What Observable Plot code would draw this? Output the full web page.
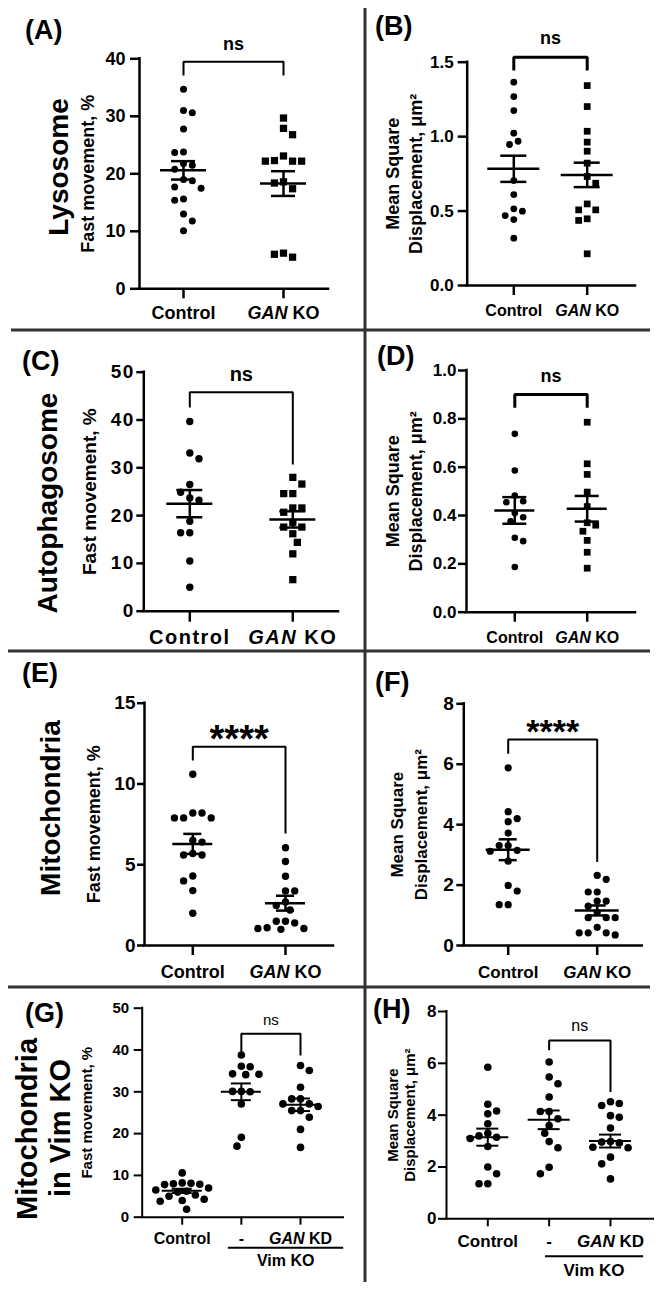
<!DOCTYPE html>
<html><head><meta charset="utf-8">
<script src="https://cdn.jsdelivr.net/npm/d3@7"></script>
<script src="https://cdn.jsdelivr.net/npm/@observablehq/plot@0.6"></script>
<style>
html,body{margin:0;padding:0;background:#fff;overflow:hidden}
#fig{position:relative;width:661px;height:1291px;background:#fff}
#fig svg{position:absolute;left:0;top:0}
</style></head><body><div id="fig"></div>
<script>
// ---------- categories ----------
const groups2 = ["Control", "GAN KO"];
const groups3 = ["Control", "-", "GAN KD"];

// ---------- tick values ----------
const ticksA = [0, 10, 20, 30, 40];
const ticksB = [0, 0.5, 1.0, 1.5];
const ticksC = [0, 10, 20, 30, 40, 50];
const ticksD = [0, 0.2, 0.4, 0.6, 0.8, 1.0];
const ticksE = [0, 5, 10, 15];
const ticksF = [0, 2, 4, 6, 8];
const ticksG = [0, 10, 20, 30, 40, 50];
const ticksH = [0, 2, 4, 6, 8];

// ---------- (A) Lysosome, fast movement % ----------
const lysoFastCtrl = [34.7, 31.0, 30.6, 27.8, 23.8, 23.7, 21.8, 21.5, 20.8, 19.0, 18.8, 17.7, 17.5, 15.6, 15.4, 13.0, 11.8, 10.1];
const lysoFastGan = [29.7, 27.9, 26.8, 23.1, 22.2, 22.2, 22.2, 22.3, 18.6, 18.4, 17.4, 6.2, 6.0, 5.5];
const lysoFastMean = [20.6, 18.3];
const lysoFastSem = [1.6, 2.15];

// ---------- (B) Lysosome, MSD ----------
const lysoMsdCtrl = [1.366, 1.269, 1.175, 1.023, 0.969, 0.947, 0.705, 0.611, 0.515, 0.499, 0.47, 0.443, 0.318];
const lysoMsdGan = [1.343, 1.202, 1.036, 0.963, 0.902, 0.822, 0.732, 0.687, 0.548, 0.508, 0.508, 0.448, 0.437, 0.213];
const lysoMsdMean = [0.784, 0.743];
const lysoMsdSem = [0.088, 0.082];

// ---------- (C) Autophagosome, fast movement % ----------
const autoFastCtrl = [39.7, 33.1, 31.9, 26.5, 24.9, 23.7, 23.2, 18.8, 16.4, 16.4, 10.5, 5.0];
const autoFastGan = [28.0, 26.6, 24.6, 24.6, 21.6, 21.6, 20.7, 18.6, 17.6, 17.6, 16.2, 14.4, 12.0, 6.6];
const autoFastMean = [22.5, 19.2];
const autoFastSem = [2.85, 1.7];

// ---------- (D) Autophagosome, MSD ----------
const autoMsdCtrl = [0.738, 0.586, 0.483, 0.459, 0.455, 0.41, 0.393, 0.376, 0.308, 0.294, 0.187];
const autoMsdGan = [0.786, 0.614, 0.570, 0.497, 0.437, 0.37, 0.36, 0.335, 0.297, 0.248, 0.182];
const autoMsdMean = [0.421, 0.428];
const autoMsdSem = [0.055, 0.053];

// ---------- (E) Mitochondria, fast movement % ----------
const mitoFastCtrl = [10.6, 8.2, 8.2, 7.9, 7.9, 7.9, 6.5, 6.4, 5.7, 5.6, 5.6, 4.3, 4.0, 3.4, 2.0];
const mitoFastGan = [6.05, 5.2, 4.29, 3.38, 3.38, 2.7, 2.48, 2.2, 1.5, 1.5, 1.4, 1.1, 1.05, 1.0, 1.05];
const mitoFastMean = [6.29, 2.62];
const mitoFastSem = [0.62, 0.46];

// ---------- (F) Mitochondria, MSD ----------
const mitoMsdCtrl = [5.88, 4.43, 4.2, 4.1, 3.72, 3.31, 3.31, 3.15, 3.12, 2.79, 1.99, 1.8, 1.35, 1.35];
const mitoMsdGan = [2.32, 2.19, 1.77, 1.77, 1.47, 1.47, 1.3, 1.1, 0.92, 0.92, 0.92, 0.6, 0.35, 0.42, 0.42, 0.42];
const mitoMsdMean = [3.17, 1.16];
const mitoMsdSem = [0.345, 0.165];

// ---------- (G) Mitochondria in Vim KO, fast movement % ----------
const vimFastCtrl = [10.6, 8.2, 8.1, 8.0, 7.9, 7.8, 7.0, 6.5, 6.2, 6.0, 5.3, 5.0, 4.3, 4.0, 3.8, 1.9];
const vimFastKO = [38.8, 36.1, 36.0, 34.3, 34.2, 34.1, 30.1, 30.1, 30.0, 27.1, 19.1, 17.0];
const vimFastKD = [36.3, 35.1, 31.1, 28.3, 28.3, 27.1, 27.1, 26.5, 25.5, 25.5, 23.9, 21.0, 16.7];
const vimFastMean = [6.3, 30.0, 26.9];
const vimFastSem = [0.5, 2.0, 1.5];

// ---------- (H) Mitochondria in Vim KO, MSD ----------
const vimMsdCtrl = [5.85, 4.42, 4.16, 4.05, 3.67, 3.3, 3.2, 3.15, 3.1, 2.79, 2.0, 1.74, 1.35, 1.35];
const vimMsdKO = [6.05, 5.47, 5.21, 4.7, 4.14, 4.14, 3.86, 3.6, 3.3, 2.98, 2.74, 1.99, 1.74];
const vimMsdKD = [4.45, 4.37, 4.52, 3.92, 3.98, 3.5, 2.98, 2.96, 2.93, 2.76, 2.74, 2.38, 2.12, 1.54];
const vimMsdMean = [3.15, 3.82, 3.0];
const vimMsdSem = [0.33, 0.36, 0.25];

// ---------- text labels ----------
const yLabelFast = ["Fast movement, %"];
const yLabelMsd = ["Mean Square", "Displacement, μm²"];
const rowLabels = ["Lysosome", "Autophagosome", "Mitochondria", "Mitochondria", "in Vim KO"];
const panelLetters = ["(A)", "(B)", "(C)", "(D)", "(E)", "(F)", "(G)", "(H)"];

// ====================================================================
const W = 661, H = 1291;
const FONT = '"Liberation Sans", Arial, Helvetica, sans-serif';
const fig = document.getElementById("fig");

// beeswarm-style horizontal spreading (pixel offsets), like a scatter dot plot
function swarm(vals, pxPerY, d) {
  const order = d3.range(vals.length).sort((a, b) => vals[b] - vals[a]);
  const placed = [], out = [];
  for (const i of order) {
    const y = vals[i] * pxPerY;
    let pos = 0;
    search: for (let k = 0; k < 80; k++) {
      let cands;
      if (k === 0) cands = [0];
      else {
        const pr = placed.filter(p => p.x > 0).length, pl = placed.filter(p => p.x < 0).length;
        cands = pr <= pl ? [k * d / 2, -k * d / 2] : [-k * d / 2, k * d / 2];
      }
      for (const c of cands) {
        if (placed.every(p => (p.x - c) ** 2 + (p.y - y) ** 2 >= d * d - 0.01)) { pos = c; break search; }
      }
    }
    placed.push({x: pos, y});
    out[i] = pos;
  }
  return out;
}

function drawPanel(c) {
  const n = c.groups.length;
  const p = c.step;
  const xd0 = -(c.cx0 - c.L) / p, xd1 = xd0 + (c.R - c.L) / p;
  const [ymin, ymax] = c.ydomain;
  const pxPerY = (c.B - c.T) / (ymax - ymin);
  const marks = [];
  marks.push(Plot.ruleX([xd0], {y1: ymin, y2: ymax, strokeWidth: c.lw, strokeLinecap: "square"}));
  marks.push(Plot.ruleY([ymin], {x1: xd0, x2: xd1, strokeWidth: c.lw, strokeLinecap: "square"}));
  marks.push(Plot.axisY({ticks: c.ticks, tickFormat: c.yfmt, tickSize: c.yTick, tickPadding: c.yPad,
    fontSize: c.yFs, fontWeight: "bold", strokeWidth: c.lw, label: null}));
  marks.push(Plot.axisX({ticks: d3.range(n), tickFormat: i => c.groups[i], tickSize: c.xTick, tickPadding: c.xPad,
    fontSize: c.xFs, fontWeight: "bold", strokeWidth: c.lw, label: null}));
  c.series.forEach((vals, gi) => {
    const sq = c.symbols[gi] === "square";
    const r = sq ? c.rSq : c.r;
    const d = (sq ? 1.772 * r : 2 * r) + c.gap;
    const offs = swarm(vals, pxPerY, d);
    const pts = vals.map((v, j) => ({x: gi + offs[j] / p, y: v}));
    marks.push(Plot.dot(pts, {x: "x", y: "y", r, symbol: c.symbols[gi], fill: "black", stroke: "none"}));
  });
  const stats = c.means.map((m, gi) => ({x: gi, m, lo: m - c.sems[gi], hi: m + c.sems[gi]}));
  const mw = c.meanHalf / p, sw = c.semHalf / p;
  marks.push(Plot.ruleY(stats, {y: "m", x1: d => d.x - mw, x2: d => d.x + mw, strokeWidth: c.lw}));
  marks.push(Plot.ruleY(stats, {y: "lo", x1: d => d.x - sw, x2: d => d.x + sw, strokeWidth: c.lw}));
  marks.push(Plot.ruleY(stats, {y: "hi", x1: d => d.x - sw, x2: d => d.x + sw, strokeWidth: c.lw}));
  marks.push(Plot.ruleX(stats, {x: "x", y1: "lo", y2: "hi", strokeWidth: c.lw}));
  const b = c.bracket;
  marks.push(Plot.line([{x: b.a, y: b.legA}, {x: b.a, y: b.top}, {x: b.b, y: b.top}, {x: b.b, y: b.legB}],
    {x: "x", y: "y", strokeWidth: b.lw, strokeLinejoin: "miter", strokeLinecap: "butt"}));
  marks.push(Plot.text([b], {x: d => (d.a + d.b) / 2, y: "top", text: "label", lineAnchor: "bottom",
    dy: b.dy, fontSize: b.fs, fontWeight: b.fw}));
  c.ylabel.forEach((t, k) => marks.push(Plot.text([t], {text: d => d, frameAnchor: "left", rotate: -90,
    textAnchor: "middle", lineAnchor: "middle",
    dx: c.ylabelDx[k], fontSize: c.ylabelFs, fontWeight: "bold", ariaLabel: "ylabel"})));
  if (c.under) {
    const u = c.under;
    marks.push(Plot.ruleY([ymin], {x1: u.x1, x2: u.x2, dy: u.dy, strokeWidth: 2}));
    marks.push(Plot.text([u], {x: "xt", frameAnchor: "bottom", text: () => u.text, lineAnchor: "bottom",
      dy: u.tdy, fontSize: c.xFs, fontWeight: "bold"}));
  }
  const svg = Plot.plot({
    width: W, height: H,
    marginLeft: c.L, marginRight: W - c.R, marginTop: c.T, marginBottom: H - c.B,
    x: {domain: [xd0, xd1]}, y: {domain: [ymin, ymax]},
    style: {background: "transparent", fontFamily: FONT, fontSize: c.yFs + "px", fontWeight: "bold",
      color: "black", overflow: "visible", position: "absolute", left: "0px", top: "0px"},
    marks
  });
  // italic gene name in tick labels
  const NS = "http://www.w3.org/2000/svg";
  svg.querySelectorAll("text").forEach(t => {
    const m = t.textContent.match(/^GAN (K[OD])$/);
    if (m && t.children.length === 0) {
      t.textContent = "";
      const a = document.createElementNS(NS, "tspan");
      a.setAttribute("font-style", "italic");
      a.textContent = "GAN";
      const k = document.createElementNS(NS, "tspan");
      k.textContent = " " + m[1];
      t.append(a, k);
    }
  });
  if (c.letterSpacing) {
    svg.querySelectorAll('[aria-label="x-axis tick label"], [aria-label="y-axis tick label"]').forEach(g => g.setAttribute("letter-spacing", c.letterSpacing));
  }
  fig.appendChild(svg);
}

// ---------- overlay: dividers, panel letters, row labels ----------
const ov = d3.select(fig).append("svg").attr("width", W).attr("height", H)
  .style("font-family", FONT).style("font-weight", "bold");
const divStroke = "#333", divW = 3;
ov.append("line").attr("x1", 365).attr("x2", 365).attr("y1", 8).attr("y2", 1282).attr("stroke", divStroke).attr("stroke-width", divW);
[[11, 330], [8, 651], [8, 987]].forEach(([x0, y]) =>
  ov.append("line").attr("x1", x0).attr("x2", 650).attr("y1", y).attr("y2", y).attr("stroke", divStroke).attr("stroke-width", divW));
const letterPos = [[25, 39], [375, 34.5], [22, 370], [377, 365], [22, 681.5], [375, 691], [25, 1022], [373, 1018]];
panelLetters.forEach((t, i) => ov.append("text").attr("x", letterPos[i][0]).attr("y", letterPos[i][1])
  .attr("font-size", 27).attr("fill", "black").text(t));
const rowPos = [[68, 167, 28], [57, 503, 28], [60, 808, 28], [37, 1129, 29], [70, 1128, 29]];
rowLabels.forEach((t, i) => ov.append("text")
  .attr("transform", `translate(${rowPos[i][0]},${rowPos[i][1]}) rotate(-90)`)
  .attr("text-anchor", "middle").attr("font-size", rowPos[i][2]).attr("fill", "black").text(t));

// ---------- panels ----------
const fmtInt = d3.format("d"), fmt1 = d3.format(".1f");

drawPanel({groups: groups2, series: [lysoFastCtrl, lysoFastGan], symbols: ["circle", "square"],
  means: lysoFastMean, sems: lysoFastSem, ticks: ticksA, ydomain: [0, 40], yfmt: fmtInt,
  L: 139, R: 328, T: 58.3, B: 288.3, cx0: 183, step: 100, lw: 2.5,
  yTick: 9, yPad: 5, yFs: 18, xTick: 10, xPad: 7, xFs: 18,
  r: 3.5, rSq: 4.1, gap: 1.8, meanHalf: 23, semHalf: 12,
  ylabel: yLabelFast, ylabelDx: [-51], ylabelFs: 18,
  bracket: {a: 0, b: 1, top: 39.5, legA: 37.1, legB: 37.1, label: "ns", dy: -12, fs: 18, fw: "bold", lw: 2}});

drawPanel({groups: groups2, series: [lysoMsdCtrl, lysoMsdGan], symbols: ["circle", "square"],
  means: lysoMsdMean, sems: lysoMsdSem, ticks: ticksB, ydomain: [0, 1.5], yfmt: fmt1,
  L: 466.7, R: 635, T: 61.7, B: 285, cx0: 513.3, step: 73.4, lw: 2.5,
  yTick: 9, yPad: 4.5, yFs: 17, xTick: 10, xPad: 9, xFs: 16,
  r: 3.4, rSq: 3.8, gap: 1.8, meanHalf: 26, semHalf: 13,
  ylabel: yLabelMsd, ylabelDx: [-73.5, -50.5], ylabelFs: 18,
  bracket: {a: 0, b: 1, top: 1.533, legA: 1.444, legB: 1.444, label: "ns", dy: -13, fs: 18, fw: "bold", lw: 3}});

drawPanel({groups: groups2, series: [autoFastCtrl, autoFastGan], symbols: ["circle", "square"],
  means: autoFastMean, sems: autoFastSem, ticks: ticksC, ydomain: [0, 50], yfmt: fmtInt,
  L: 143.3, R: 338, T: 371.7, B: 610.7, cx0: 189.3, step: 103, lw: 2.5,
  yTick: 7, yPad: 2, yFs: 19, xTick: 11, xPad: 8, xFs: 20, letterSpacing: "1.5px",
  r: 3.7, rSq: 4.1, gap: 1.8, meanHalf: 23, semHalf: 13,
  ylabel: yLabelFast, ylabelDx: [-54.3], ylabelFs: 19,
  bracket: {a: 0, b: 1, top: 45.8, legA: 42.6, legB: 30.7, label: "ns", dy: -11, fs: 20, fw: "bold", lw: 2}});

drawPanel({groups: groups2, series: [autoMsdCtrl, autoMsdGan], symbols: ["circle", "square"],
  means: autoMsdMean, sems: autoMsdSem, ticks: ticksD, ydomain: [0, 1.0], yfmt: fmt1,
  L: 466, R: 635, T: 370, B: 611.7, cx0: 514.3, step: 72.4, lw: 2.5,
  yTick: 8, yPad: 2, yFs: 17, xTick: 10, xPad: 9, xFs: 16,
  r: 3.3, rSq: 3.8, gap: 1.8, meanHalf: 20, semHalf: 12,
  ylabel: yLabelMsd, ylabelDx: [-73, -50], ylabelFs: 18,
  bracket: {a: 0, b: 1, top: 0.901, legA: 0.846, legB: 0.846, label: "ns", dy: -12, fs: 18, fw: "bold", lw: 3}});

drawPanel({groups: groups2, series: [mitoFastCtrl, mitoFastGan], symbols: ["circle", "circle"],
  means: mitoFastMean, sems: mitoFastSem, ticks: ticksE, ydomain: [0, 15], yfmt: fmtInt,
  L: 144, R: 333, T: 702.7, B: 945, cx0: 192.3, step: 92.7, lw: 2.5,
  yTick: 7, yPad: 2, yFs: 19, xTick: 10, xPad: 10, xFs: 18,
  r: 3.7, rSq: 4.1, gap: 1.8, meanHalf: 20, semHalf: 9,
  ylabel: yLabelFast, ylabelDx: [-50], ylabelFs: 18,
  bracket: {a: 0, b: 1, top: 12.31, legA: 11.45, legB: 6.93, label: "****", dy: 5, fs: 38, fw: "bold", lw: 2}});

drawPanel({groups: groups2, series: [mitoMsdCtrl, mitoMsdGan], symbols: ["circle", "circle"],
  means: mitoMsdMean, sems: mitoMsdSem, ticks: ticksF, ydomain: [0, 8], yfmt: fmtInt,
  L: 463.3, R: 641.7, T: 703.3, B: 945, cx0: 507.7, step: 89, lw: 2.5,
  yTick: 7, yPad: 3, yFs: 19, xTick: 10, xPad: 10, xFs: 17,
  r: 3.6, rSq: 4.1, gap: 1.8, meanHalf: 22, semHalf: 9,
  ylabel: yLabelMsd, ylabelDx: [-66.5, -42.5], ylabelFs: 17,
  bracket: {a: 0, b: 1, top: 6.82, legA: 6.35, legB: 2.76, label: "****", dy: 4, fs: 34, fw: "bold", lw: 2}});

drawPanel({groups: groups3, series: [vimFastCtrl, vimFastKO, vimFastKD], symbols: ["circle", "circle", "circle"],
  means: vimFastMean, sems: vimFastSem, ticks: ticksG, ydomain: [0, 50], yfmt: fmtInt,
  L: 141.7, R: 343, T: 1007.7, B: 1216.7, cx0: 181.7, step: 59.15, lw: 2,
  yTick: 8, yPad: 5, yFs: 15, xTick: 8, xPad: 7, xFs: 16,
  r: 3.8, rSq: 4.1, gap: 1.2, meanHalf: 20, semHalf: 10,
  ylabel: yLabelFast, ylabelDx: [-54.7], ylabelFs: 15,
  bracket: {a: 1, b: 2, top: 43.9, legA: 38.7, legB: 38.7, label: "ns", dy: -9, fs: 15, fw: "normal", lw: 2},
  under: {x1: 0.78, x2: 2.73, dy: 30.6, xt: 1.75, tdy: 49, text: "Vim KO"}});

drawPanel({groups: groups3, series: [vimMsdCtrl, vimMsdKO, vimMsdKD], symbols: ["circle", "circle", "circle"],
  means: vimMsdMean, sems: vimMsdSem, ticks: ticksH, ydomain: [0, 8], yfmt: fmtInt,
  L: 446, R: 653, T: 1011, B: 1218.3, cx0: 487.3, step: 61.35, lw: 2,
  yTick: 8, yPad: 2, yFs: 17, xTick: 8, xPad: 8, xFs: 17,
  r: 3.8, rSq: 4.1, gap: 1.2, meanHalf: 21, semHalf: 11,
  ylabel: yLabelMsd, ylabelDx: [-53, -36], ylabelFs: 15,
  bracket: {a: 1, b: 2, top: 6.88, legA: 6.5, legB: 4.89, label: "ns", dy: -10, fs: 16, fw: "normal", lw: 2},
  under: {x1: 0.94, x2: 2.54, dy: 37.4, xt: 1.73, tdy: 57, text: "Vim KO"}});
</script></body></html>
